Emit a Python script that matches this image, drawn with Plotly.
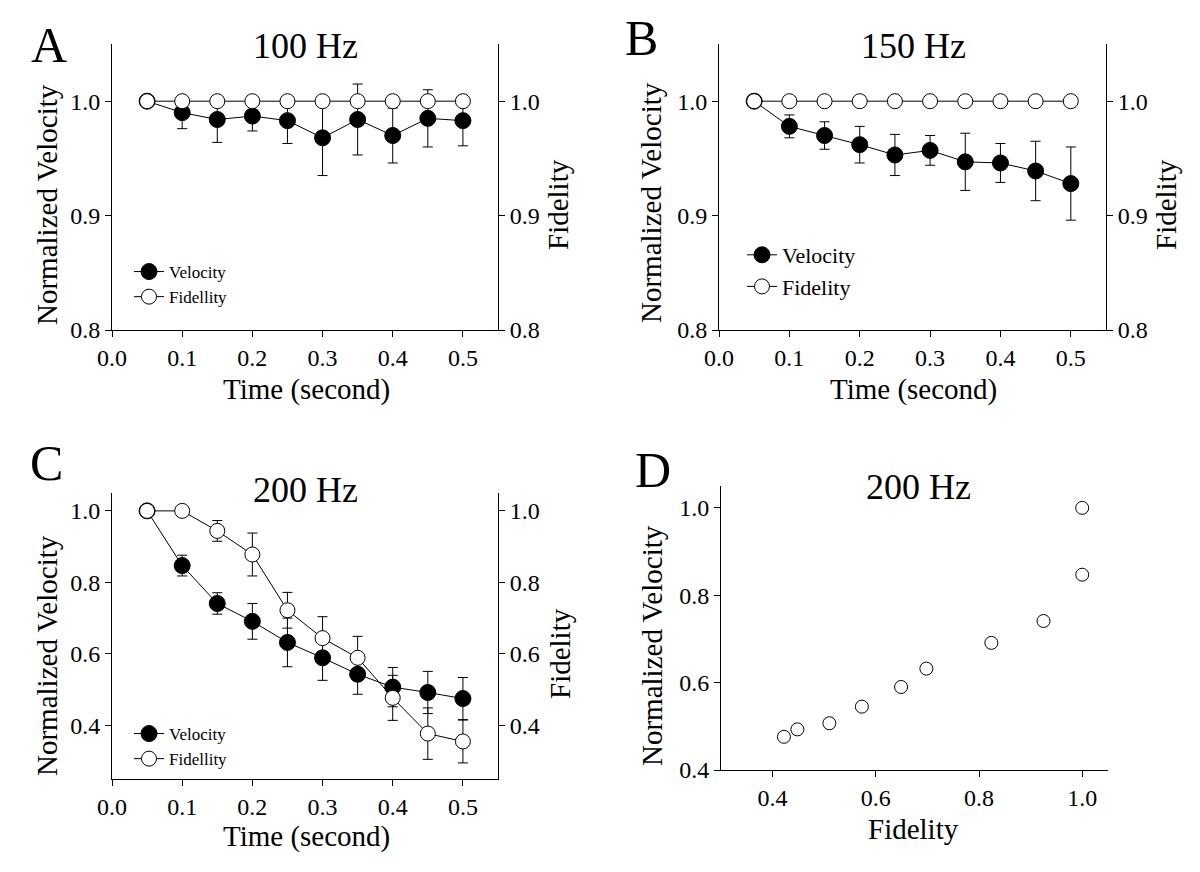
import plotly.graph_objects as go

# time points (seconds)
time = [0.05, 0.10, 0.15, 0.20, 0.25, 0.30, 0.35, 0.40, 0.45, 0.50]

# A - 100 Hz
vel_100 = [1.0, 0.990, 0.984, 0.987, 0.983, 0.968, 0.984, 0.970, 0.985, 0.983]
vel_100_err = [0, 0.014, 0.020, 0.013, 0.020, 0.033, 0.031, 0.024, 0.025, 0.022]
fid_100 = [1.0, 1.0, 1.0, 1.0, 1.0, 1.0, 1.0, 1.0, 1.0, 1.0]

# B - 150 Hz
vel_150 = [1.0, 0.978, 0.970, 0.962, 0.953, 0.957, 0.947, 0.946, 0.939, 0.928]
vel_150_err = [0, 0.010, 0.012, 0.016, 0.018, 0.013, 0.025, 0.017, 0.026, 0.032]
fid_150 = [1.0, 1.0, 1.0, 1.0, 1.0, 1.0, 1.0, 1.0, 1.0, 1.0]

# C - 200 Hz
vel_200 = [1.0, 0.847, 0.741, 0.691, 0.632, 0.589, 0.543, 0.507, 0.492, 0.475]
vel_200_err = [0, 0.029, 0.030, 0.050, 0.068, 0.063, 0.056, 0.055, 0.059, 0.059]
fid_200 = [1.0, 1.0, 0.944, 0.878, 0.722, 0.644, 0.589, 0.477, 0.377, 0.355]
fid_200_err = [0, 0, 0.029, 0.060, 0.050, 0.060, 0.060, 0.063, 0.072, 0.060]

# D - 200 Hz, velocity against fidelity
fid_d = [1.0, 1.0, 0.925, 0.824, 0.698, 0.649, 0.573, 0.510, 0.448, 0.422]
vel_d = [1.0, 0.847, 0.741, 0.691, 0.632, 0.590, 0.545, 0.507, 0.493, 0.476]

FONT = "Liberation Serif"
W, H = 1200, 872
OFF = 8  # the page body adds an 8px margin, so place everything 8px up/left


def px_x(p):
    return (p - OFF) / W


def px_y(p):
    return 1 - (p - OFF) / H


def filled(x, y, err, xa, ya, name, legend):
    return go.Scatter(x=x, y=y, mode="lines+markers", name=name, xaxis=xa, yaxis=ya,
                      legend=legend,
                      line=dict(color="black", width=1),
                      marker=dict(symbol="circle", size=16, color="black",
                                  line=dict(color="black", width=1)),
                      error_y=dict(type="data", array=err, color="black",
                                   thickness=1, width=5))


def hollow(x, y, err, xa, ya, name, legend, size=15, mode="lines+markers"):
    tr = go.Scatter(x=x, y=y, mode=mode, name=name, xaxis=xa, yaxis=ya,
                    legend=legend,
                    line=dict(color="black", width=1),
                    marker=dict(symbol="circle", size=size, color="white",
                                line=dict(color="black", width=1)))
    if err is not None:
        tr.error_y = dict(type="data", array=err, color="black", thickness=1, width=5)
    return tr


fig = go.Figure()
fig.add_trace(filled(time, vel_100, vel_100_err, "x", "y", "Velocity", "legend"))
fig.add_trace(hollow(time, fid_100, None, "x", "y2", "Fidellity", "legend"))
fig.add_trace(filled(time, vel_150, vel_150_err, "x2", "y3", "Velocity", "legend2"))
fig.add_trace(hollow(time, fid_150, None, "x2", "y4", "Fidelity", "legend2"))
fig.add_trace(filled(time, vel_200, vel_200_err, "x3", "y5", "Velocity", "legend3"))
fig.add_trace(hollow(time, fid_200, fid_200_err, "x3", "y6", "Fidellity", "legend3"))
fig.add_trace(hollow(fid_d, vel_d, None, "x4", "y7", "200 Hz", "legend", size=13,
                     mode="markers"))
fig.data[-1].showlegend = False

tickfont = dict(family=FONT, size=24, color="black")
common = dict(showline=True, linecolor="black", linewidth=1, ticks="outside",
              ticklen=6, tickwidth=1, tickcolor="black", showgrid=False,
              zeroline=False, tickfont=tickfont, fixedrange=True, automargin=False)

dom_ab_y = [px_y(330), px_y(44)]
dom_c_y = [px_y(779), px_y(493)]
dom_d_y = [px_y(770), px_y(486)]
dom_ac_x = [px_x(112), px_x(498)]
dom_b_x = [px_x(719), px_x(1106)]
dom_d_x = [px_x(721), px_x(1108)]

time_axis = dict(range=[0, 0.55], tick0=0, dtick=0.1, tickformat=".1f", **common)

fig.update_layout(
    width=W, height=H,
    margin=dict(l=0, r=0, t=0, b=0),
    paper_bgcolor="white", plot_bgcolor="white",
    font=dict(family=FONT, color="black"),
    # A
    xaxis=dict(domain=dom_ac_x, anchor="y", **time_axis),
    yaxis=dict(domain=dom_ab_y, anchor="x", range=[0.8, 1.05], tick0=0.8, dtick=0.1,
               tickformat=".1f", **common),
    yaxis2=dict(overlaying="y", side="right", anchor="x", range=[0.8, 1.05], tick0=0.8,
                dtick=0.1, tickformat=".1f", **common),
    # B
    xaxis2=dict(domain=dom_b_x, anchor="y3", **time_axis),
    yaxis3=dict(domain=dom_ab_y, anchor="x2", range=[0.8, 1.05], tick0=0.8, dtick=0.1,
                tickformat=".1f", **common),
    yaxis4=dict(overlaying="y3", side="right", anchor="x2", range=[0.8, 1.05], tick0=0.8,
                dtick=0.1, tickformat=".1f", **common),
    # C
    xaxis3=dict(domain=dom_ac_x, anchor="y5", **time_axis),
    yaxis5=dict(domain=dom_c_y, anchor="x3", range=[0.25, 1.05], tickvals=[0.4, 0.6, 0.8, 1.0],
                tickformat=".1f", **common),
    yaxis6=dict(overlaying="y5", side="right", anchor="x3", range=[0.25, 1.05],
                tickvals=[0.4, 0.6, 0.8, 1.0], tickformat=".1f", **common),
    # D
    xaxis4=dict(domain=dom_d_x, anchor="y7", range=[0.3, 1.05], tickvals=[0.4, 0.6, 0.8, 1.0],
                tickformat=".1f", **common),
    yaxis7=dict(domain=dom_d_y, anchor="x4", range=[0.4, 1.05], tickvals=[0.4, 0.6, 0.8, 1.0],
                tickformat=".1f", **common),
    legend=dict(x=px_x(129), y=px_y(254), xanchor="left", yanchor="top",
                font=dict(family=FONT, size=17, color="black"), bgcolor="rgba(0,0,0,0)",
                itemwidth=30, tracegroupgap=0),
    legend2=dict(x=px_x(742), y=px_y(234), xanchor="left", yanchor="top",
                 font=dict(family=FONT, size=22, color="black"), bgcolor="rgba(0,0,0,0)",
                 itemwidth=30),
    legend3=dict(x=px_x(129), y=px_y(716), xanchor="left", yanchor="top",
                 font=dict(family=FONT, size=17, color="black"), bgcolor="rgba(0,0,0,0)",
                 itemwidth=30),
)

# titles, panel letters and axis titles as text
texts = [
    ("A", 49, 45, 50, 0), ("B", 641, 38, 50, 0), ("C", 46, 463, 50, 0), ("D", 653, 470, 50, 0),
    ("100 Hz", 305, 46, 36, 0), ("150 Hz", 913, 46, 36, 0),
    ("200 Hz", 305, 490, 36, 0), ("200 Hz", 918, 487, 36, 0),
    ("Normalized Velocity", 47, 205, 29, -90), ("Fidelity", 558, 205, 29, -90),
    ("Time (second)", 306, 389, 29, 0),
    ("Normalized Velocity", 651, 203, 29, -90), ("Fidelity", 1166, 205, 29, -90),
    ("Time (second)", 913, 389, 29, 0),
    ("Normalized Velocity", 47, 656, 29, -90), ("Fidelity", 560, 654, 29, -90),
    ("Time (second)", 306, 836, 29, 0),
    ("Normalized Velocity", 652, 646, 29, -90), ("Fidelity", 913, 829, 29, 0),
]
for txt, x, y, size, angle in texts:
    fig.add_annotation(text=txt, x=px_x(x), y=px_y(y), xref="paper", yref="paper",
                       xanchor="center", yanchor="middle", showarrow=False,
                       textangle=angle, font=dict(family=FONT, size=size, color="black"))

fig.write_html("out.html")
